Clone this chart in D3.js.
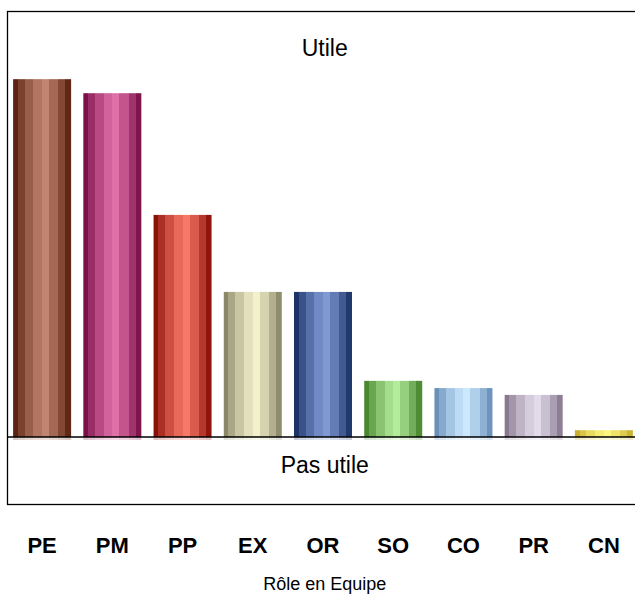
<!DOCTYPE html>
<html>
<head>
<meta charset="utf-8">
<script src="https://cdn.jsdelivr.net/npm/d3@7"></script>
<style>
  body { margin: 0; background: #fff; }
  svg { display: block; font-family: "Liberation Sans", Arial, sans-serif; }
</style>
</head>
<body>
<div id="chart"></div>
<script>
(function () {
  'use strict'

  var roles = ['PE', 'PM', 'PP', 'EX', 'OR', 'SO', 'CO', 'PR', 'CN']
  var values = [84.1, 80.8, 52.2, 34.1, 34.1, 13.2, 11.5, 9.9, 1.6]
  var darkColors = ['#5c2410', '#7a1048', '#8c1008', '#8a8868', '#1c3468', '#4a8830', '#6890b8', '#887890', '#c8b030']
  var lightColors = ['#c08470', '#e070a8', '#f87868', '#f4f0cc', '#8098d4', '#b4ec9c', '#cce8ff', '#e2dcea', '#fff880']

  var width = 635
  var height = 599
  var box = { left: 7.5, top: 11.5, right: 642, bottom: 504.5 }

  var svg = d3.select('#chart').append('svg')
    .attr('width', width)
    .attr('height', height)

  var x = d3.scaleBand()
    .domain(roles)
    .range([box.left - 0.5, box.left + 631.5])
    .paddingInner(0.174)
    .paddingOuter(0.087)

  var y = d3.scaleLinear()
    .domain([-15.86, 100])
    .range([box.bottom, box.top])

  // Stripe gradients, one per bar
  var stripeEdges = [0, 0.08, 0.2, 0.35, 0.5, 0.62, 0.78, 0.9, 1]
  var stripeLevels = [0, 0.3, 0.6, 0.85, 1, 0.72, 0.38, 0.05]

  var defs = svg.append('defs')
  roles.forEach(function (r, i) {
    var interp = d3.interpolateRgb(darkColors[i], lightColors[i])
    var grad = defs.append('linearGradient')
      .attr('id', 'grad-' + r)
      .attr('x1', 0).attr('x2', 1).attr('y1', 0).attr('y2', 0)
    stripeLevels.forEach(function (t, k) {
      grad.append('stop').attr('offset', stripeEdges[k]).attr('stop-color', interp(t))
      grad.append('stop').attr('offset', stripeEdges[k + 1]).attr('stop-color', interp(t))
    })
  })

  // Frame
  svg.append('rect')
    .attr('x', box.left)
    .attr('y', box.top)
    .attr('width', box.right - box.left)
    .attr('height', box.bottom - box.top)
    .attr('fill', 'none')
    .attr('stroke', '#000')
    .attr('stroke-width', 1.3)

  // Bars
  svg.selectAll('.bar').data(values).enter().append('rect')
    .attr('class', 'bar')
    .attr('x', function (d, i) { return x(roles[i]) })
    .attr('y', function (d) { return y(d) })
    .attr('width', x.bandwidth())
    .attr('height', function (d) { return y(0) - y(d) })
    .attr('fill', function (d, i) { return 'url(#grad-' + roles[i] + ')' })

  // Faint reflection just under the baseline
  svg.selectAll('.refl').data(values).enter().append('rect')
    .attr('class', 'refl')
    .attr('x', function (d, i) { return x(roles[i]) })
    .attr('y', y(0))
    .attr('width', x.bandwidth())
    .attr('height', 3)
    .attr('opacity', 0.25)
    .attr('fill', function (d, i) { return 'url(#grad-' + roles[i] + ')' })

  // Baseline
  svg.append('line')
    .attr('x1', box.left)
    .attr('x2', box.right)
    .attr('y1', y(0))
    .attr('y2', y(0))
    .attr('stroke', '#000')
    .attr('stroke-width', 1.3)

  var midX = (box.left + box.right) / 2

  svg.append('text')
    .attr('x', midX)
    .attr('y', 56)
    .attr('text-anchor', 'middle')
    .attr('font-size', 23)
    .text('Utile')

  svg.append('text')
    .attr('x', midX)
    .attr('y', 473)
    .attr('text-anchor', 'middle')
    .attr('font-size', 23)
    .text('Pas utile')

  // Category axis
  var xAxis = d3.axisBottom(x).tickSize(0).tickPadding(0)
  var gx = svg.append('g')
    .attr('transform', 'translate(0,' + 537 + ')')
    .call(xAxis)
  gx.select('.domain').remove()
  gx.selectAll('text')
    .attr('font-size', 22)
    .attr('font-weight', 'bold')
    .attr('font-family', '"Liberation Sans", Arial, sans-serif')
    .attr('fill', '#000')

  svg.append('text')
    .attr('x', midX)
    .attr('y', 590)
    .attr('text-anchor', 'middle')
    .attr('font-size', 18)
    .text('Rôle en Equipe')
}())
</script>
</body>
</html>
